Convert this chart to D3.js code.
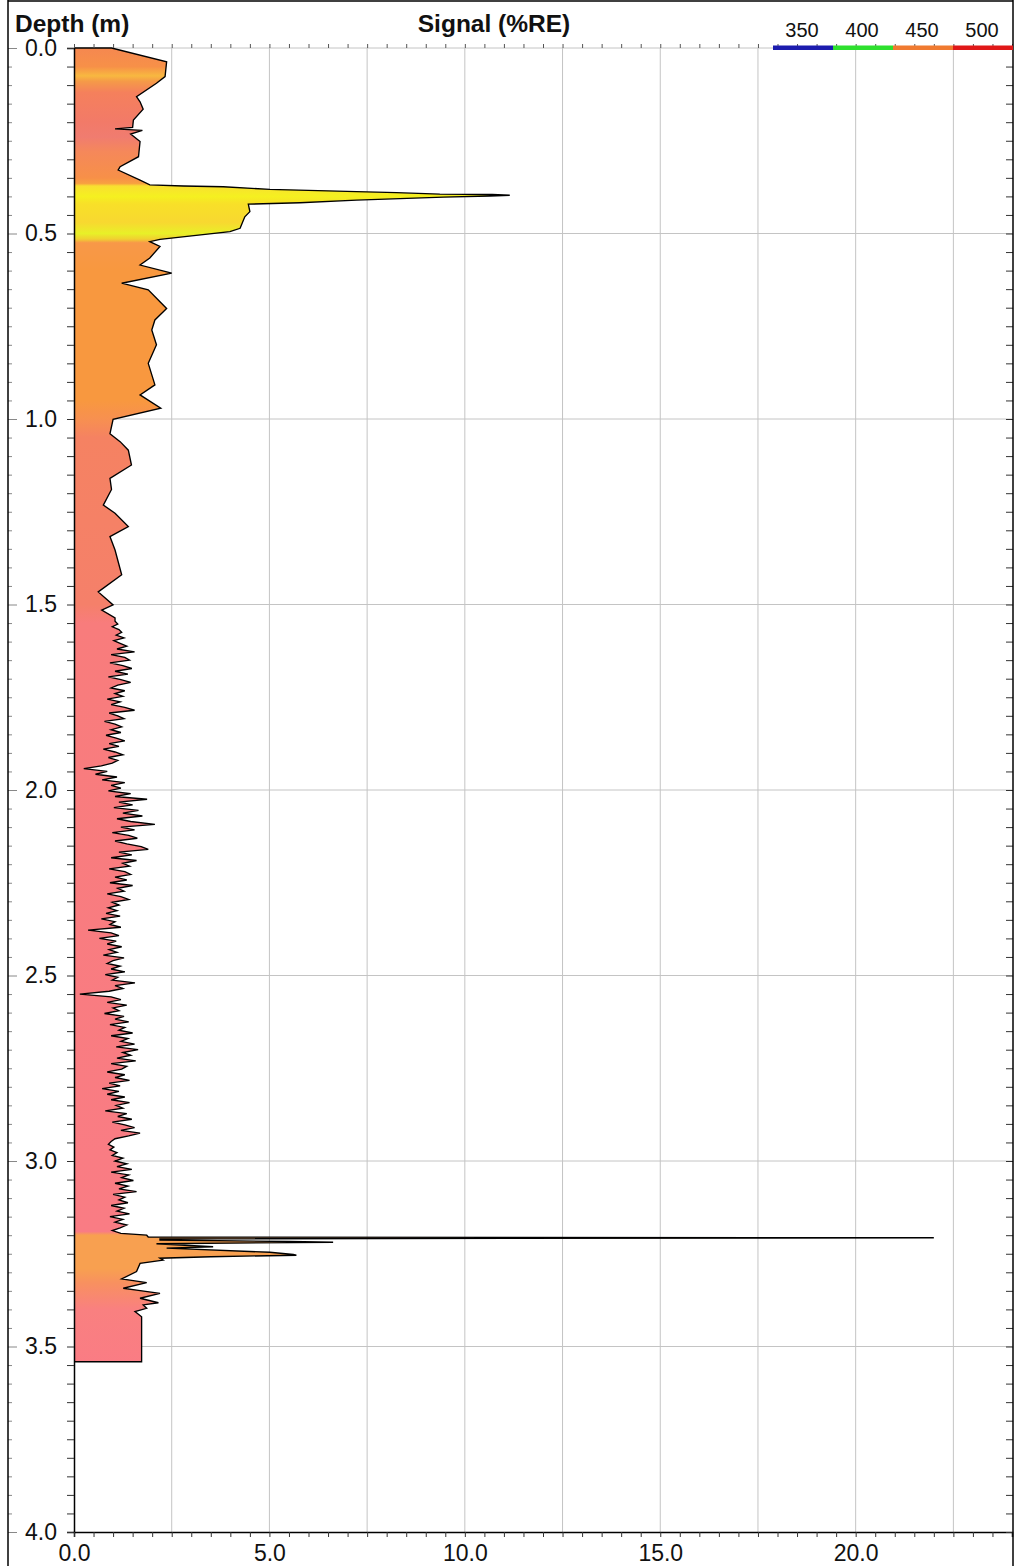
<!DOCTYPE html>
<html><head><meta charset="utf-8">
<script src="https://cdn.jsdelivr.net/npm/d3@7"></script>
<style>body{margin:0;background:#fff}svg{display:block}text{font-family:"Liberation Sans",Arial,sans-serif}</style>
</head><body><svg id="c" width="1028" height="1566"></svg>
<script>
// ---------- data ----------
const depthTitle = "Depth (m)";
const signalTitle = "Signal (%RE)";
const legendLabels = ["350", "400", "450", "500"];
const legendColors = ["#1c1cae", "#2ee02e", "#f07a30", "#e01818"];
const xTickLabels = [0, 5, 10, 15, 20];
const yTickLabels = [0, 0.5, 1.0, 1.5, 2.0, 2.5, 3.0, 3.5, 4.0];

// upper smooth part of the profile
const topDepth = [0.000,0.037,0.077,0.095,0.131,0.145,0.165,0.194,0.214,0.218,0.222,0.232,0.252,0.293,0.320,0.329,0.356,0.369,0.372,0.374,0.381,0.387,0.390,0.394,0.395,0.397,0.399,0.402,0.410,0.417,0.421,0.441,0.455,0.486,0.495,0.516,0.522,0.535,0.566,0.585,0.607,0.634,0.652,0.684,0.702,0.733,0.760,0.800,0.850,0.908,0.935,0.971,1.001,1.040,1.061,1.084,1.124,1.160,1.190,1.232,1.254,1.290,1.317,1.353,1.420,1.466,1.501,1.515,1.536];
const topSignal = [0.96,2.37,2.33,2.11,1.60,1.69,1.77,1.52,1.50,1.05,1.75,1.45,1.69,1.65,1.18,1.13,1.69,1.94,2.80,3.82,5.01,7.23,8.25,9.36,10.70,11.15,10.64,9.45,7.23,5.78,4.46,4.50,4.37,4.25,3.99,2.20,1.94,2.20,1.94,1.69,2.50,1.22,1.90,2.20,2.37,2.07,1.99,2.11,1.90,2.07,1.69,2.22,1.00,0.92,1.18,1.39,1.47,0.92,0.96,0.75,1.05,1.39,0.92,1.05,1.22,0.62,1.00,0.71,1.05];

// noisy middle part, sampled every noiseStep metres from noiseStart
const noiseStart = 1.545;
const noiseStep = 0.0075;
const noiseSignal = [
1.05,1.12,0.98,1.15,1.22,1.08,1.28,1.02,1.18,1.35,1.10,1.55,0.95,
1.30,1.42,0.92,1.25,1.48,1.05,1.38,0.88,1.20,1.45,1.12,0.95,1.30,
1.05,1.25,0.85,1.18,0.95,1.30,1.55,0.90,1.12,1.28,0.78,1.05,1.22,
0.95,1.20,0.82,1.08,1.30,0.90,1.15,0.75,1.05,1.25,0.88,1.12,0.98,
0.70,0.25,0.85,0.55,1.10,0.72,1.30,0.95,1.20,0.88,1.45,1.05,1.87,
1.15,1.50,1.02,1.65,1.25,1.75,1.10,1.45,2.07,1.20,1.55,0.98,1.40,
1.62,1.05,1.35,1.72,1.90,1.15,1.48,0.95,1.60,1.25,1.42,0.90,1.30,
1.45,1.05,1.35,0.92,1.50,1.12,1.28,0.85,1.20,1.40,0.98,1.15,0.88,
1.10,0.82,1.18,0.70,1.05,0.92,1.20,0.36,0.95,1.15,0.65,1.08,0.85,
1.22,0.90,1.10,0.75,1.28,1.00,0.85,1.18,0.95,1.30,0.80,1.12,0.98,
1.56,1.05,1.25,0.90,0.15,0.95,1.20,0.85,1.35,1.00,1.15,0.78,1.28,
1.05,1.40,0.92,1.30,1.15,1.50,0.95,1.38,1.20,1.55,1.08,1.64,1.25,
1.45,1.10,1.58,0.95,1.35,1.22,0.85,1.30,1.05,1.42,0.90,1.18,0.72,
1.15,0.85,1.30,0.95,1.42,1.08,1.25,0.80,1.35,1.12,1.48,0.98,1.30,
1.55,1.20,1.69,1.40,1.05,0.95,0.88,1.02,0.92,1.10,0.98,1.25,1.05,
1.35,1.10,1.48,0.95,1.40,1.22,1.52,1.05,1.38,1.15,1.60,1.00,1.30,
1.15,1.38,0.95,1.28,1.10,1.42,0.92,1.25,1.05,1.35,1.18,0.98,1.20];

// lower part with the sharp spike
const botDepth = [3.200,3.205,3.207,3.210,3.213,3.217,3.219,3.223,3.231,3.235,3.246,3.252,3.254,3.258,3.262,3.267,3.276,3.298,3.318,3.321,3.328,3.343,3.348,3.357,3.370,3.382,3.388,3.397,3.406,3.420,3.541];
const botSignal = [1.86,1.90,22.00,2.20,2.20,5.50,6.63,2.11,3.56,2.37,5.01,5.61,5.69,3.50,2.20,2.28,1.69,1.60,1.22,1.43,1.86,1.26,1.60,2.20,1.69,2.16,1.77,1.86,1.56,1.73,1.73];

// fill colour by depth
const bandDepth = [0.00,0.05,0.075,0.09,0.12,0.20,0.24,0.28,0.35,0.365,0.372,0.40,0.42,0.47,0.50,0.515,0.525,0.60,0.95,1.00,1.05,1.50,1.55,3.19,3.20,3.29,3.33,3.40,3.55];
const bandColor = ["#f58850","#f79048","#f8b840","#f59a48","#f5805c","#f27a68","#f07c70","#f5885a","#f79048","#f8a040","#f8e030","#f5f020","#f8e028","#f8d830","#e8f028","#f0d030","#f89848","#f8983f","#f8983f","#f79050","#f58262","#f5806a","#f87c7c","#f97c84","#f8a050","#f8a050","#f89060","#f98080","#fa7c84"];

// ---------- chart ----------
const svg = d3.select("#c");
const x = d3.scaleLinear().domain([0, 24]).range([74, 1012]);
const y = d3.scaleLinear().domain([0, 4]).range([48, 1532]);

const data = [];
topDepth.forEach((d, i) => data.push({d, v: topSignal[i]}));
noiseSignal.forEach((v, i) => data.push({d: noiseStart + i * noiseStep, v}));
botDepth.forEach((d, i) => data.push({d, v: botSignal[i]}));

svg.append("rect").attr("width", 1028).attr("height", 1566).attr("fill", "#fff");

// gradient
const grad = svg.append("defs").append("linearGradient").attr("id", "depthFill")
  .attr("gradientUnits", "userSpaceOnUse").attr("x1", 0).attr("x2", 0)
  .attr("y1", y(0)).attr("y2", y(4));
bandDepth.forEach((d, i) => grad.append("stop").attr("offset", d / 4).attr("stop-color", bandColor[i]));

// gridlines
const gx = d3.range(2.5, 24, 2.5);
const gy = d3.range(0, 4, 0.5);
svg.append("g").selectAll("line").data(gx).join("line")
  .attr("x1", d => x(d)).attr("x2", d => x(d)).attr("y1", y(0)).attr("y2", y(4))
  .attr("stroke", "#c4c4c4").attr("stroke-width", 1);
svg.append("g").selectAll("line").data(gy).join("line")
  .attr("x1", x(0)).attr("x2", x(24)).attr("y1", d => y(d)).attr("y2", d => y(d))
  .attr("stroke", "#c4c4c4").attr("stroke-width", 1);

// area
const area = d3.area().y(d => y(d.d)).x0(x(0)).x1(d => x(d.v));
svg.append("path").datum(data).attr("d", area).attr("fill", "url(#depthFill)");
const lineData = [{d: 0, v: 0}].concat(data, [{d: data[data.length - 1].d, v: 0}]);
svg.append("path").datum(lineData)
  .attr("d", d3.line().x(d => x(d.v)).y(d => y(d.d)))
  .attr("fill", "none").attr("stroke", "#000").attr("stroke-width", 1.35).attr("stroke-linejoin", "miter");

// axes
const fmt = d3.format(".1f");
const yMinor = d3.range(0, 4.0001, 0.05).map(v => +v.toFixed(2));
const isMajorY = v => Math.abs(v * 2 - Math.round(v * 2)) < 1e-6;
const leftAxis = d3.axisLeft(y).tickValues(yMinor).tickSize(7).tickPadding(10)
  .tickFormat(v => isMajorY(v) ? fmt(v) : "");
const gl = svg.append("g").attr("transform", `translate(${x(0)},0)`).call(leftAxis);
gl.select(".domain").attr("stroke", "#000").attr("stroke-width", 1.5);
gl.selectAll(".tick line").attr("stroke", "#333");
gl.selectAll("text").attr("font-size", 23).attr("fill", "#111").attr("font-family", "Liberation Sans, Arial");

const xMinor = d3.range(0, 24.0001, 0.5);
const bottomAxis = d3.axisBottom(x).tickValues(xMinor).tickSize(5).tickPadding(8)
  .tickFormat(v => xTickLabels.includes(v) ? fmt(v) : "");
const gb = svg.append("g").attr("transform", `translate(0,${y(4)})`).call(bottomAxis);
gb.select(".domain").attr("stroke", "#000").attr("stroke-width", 1.5);
gb.selectAll(".tick line").attr("stroke", "#333");
gb.selectAll("text").attr("font-size", 23).attr("fill", "#111").attr("font-family", "Liberation Sans, Arial");

// top ticks
const gt = svg.append("g").attr("transform", `translate(0,${y(0)})`)
  .call(d3.axisTop(x).tickValues(xMinor).tickSize(4).tickFormat(""));
gt.select(".domain").remove();
gt.selectAll(".tick line").attr("stroke", "#555");

// right ticks
const gr = svg.append("g").attr("transform", `translate(1013,0)`)
  .call(d3.axisLeft(y).tickValues(yMinor).tickSize(7).tickFormat(""));
gr.select(".domain").remove();
gr.selectAll(".tick line").attr("stroke", "#333");

// outer frame ticks
const go = svg.append("g").attr("transform", `translate(8,0)`)
  .call(d3.axisRight(y).tickValues(yMinor).tickSize(4).tickFormat(""));
go.select(".domain").remove();
go.selectAll(".tick line").attr("stroke", "#888").attr("x2", v => isMajorY(v) ? 9 : 4);

// frame
svg.append("line").attr("x1", 8).attr("x2", 8).attr("y1", 0).attr("y2", 1566).attr("stroke", "#000").attr("stroke-width", 1.5);
svg.append("line").attr("x1", 8).attr("x2", 1013).attr("y1", 1).attr("y2", 1).attr("stroke", "#000").attr("stroke-width", 1.5);
svg.append("line").attr("x1", 1013).attr("x2", 1013).attr("y1", 0).attr("y2", 1566).attr("stroke", "#000").attr("stroke-width", 1.5);

// titles
svg.append("text").attr("x", 15).attr("y", 32).attr("font-size", 24.5).attr("font-weight", "bold").attr("fill", "#111").text(depthTitle);
svg.append("text").attr("x", 494).attr("y", 32).attr("text-anchor", "middle").attr("font-size", 24.5).attr("font-weight", "bold").attr("fill", "#111").text(signalTitle);

// legend
const lg = d3.scaleBand().domain(legendLabels).range([773, 1013]).paddingInner(0);
svg.append("g").selectAll("rect").data(legendLabels).join("rect")
  .attr("x", d => lg(d)).attr("width", lg.bandwidth()).attr("y", 45.5).attr("height", 4.5)
  .attr("fill", (d, i) => legendColors[i]);
svg.append("g").selectAll("text").data(legendLabels).join("text")
  .attr("x", d => lg(d) + lg.bandwidth() / 2 - 1).attr("y", 37).attr("text-anchor", "middle")
  .attr("font-size", 20).attr("fill", "#111").text(d => d);
</script></body></html>
